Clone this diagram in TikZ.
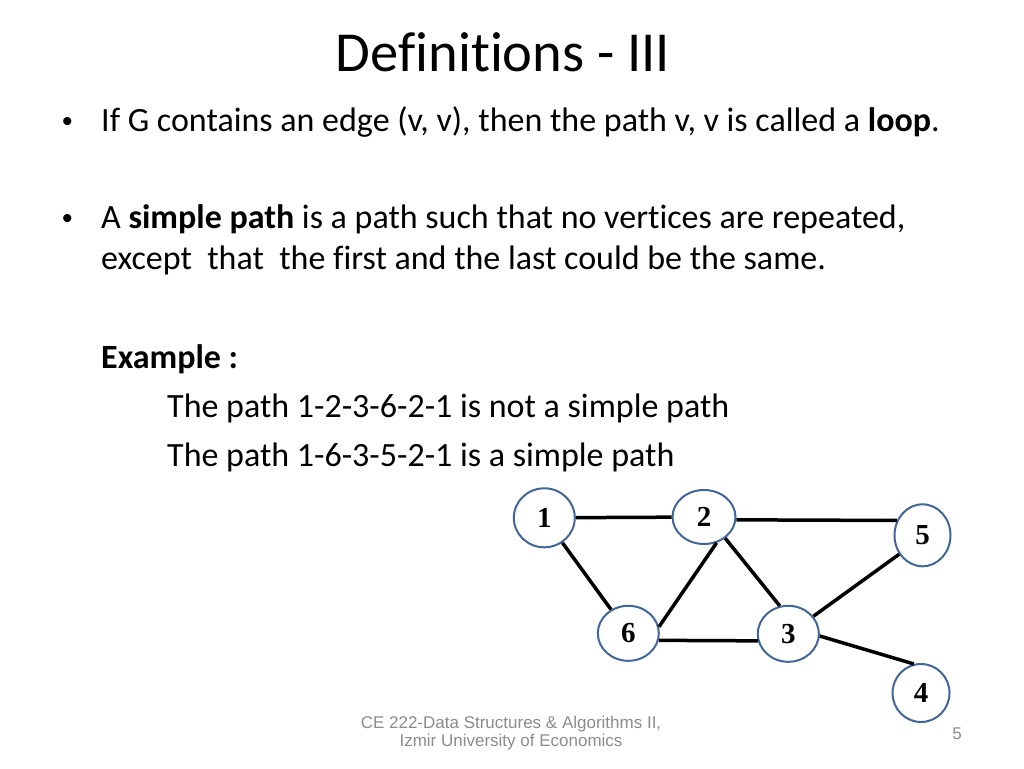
\documentclass[tikz,border=0pt]{standalone}
\usepackage{fontspec}
\setmainfont{Carlito}[Ligatures=NoCommon]
\newfontfamily\footfont{Liberation Sans}
\newfontfamily\numfont{Liberation Serif}
\definecolor{nodeblue}{HTML}{41669A}
\definecolor{footgray}{HTML}{8C8C8C}
\usetikzlibrary{shapes.geometric}

\begin{document}
\begin{tikzpicture}
  [x=1pt,y=-1pt,
   vertex/.style={ellipse,draw=nodeblue,line width=2pt,fill=white,inner sep=0pt,
     minimum width=61pt,minimum height=56pt,font=\numfont\bfseries\fontsize{29}{29}\selectfont},
   edge/.style={line width=3.5pt},
   body/.style={anchor=base west,inner sep=0pt,font=\fontsize{34}{41}\selectfont},
   dot/.style={anchor=base,inner sep=0pt,font=\footfont\fontsize{30}{30}\selectfont},
   foot/.style={inner sep=0pt,text=footgray,font=\footfont\fontsize{17}{18.7}\selectfont}]
  \fill[white] (0,0) rectangle (1024,768);
  \useasboundingbox (0,0) rectangle (1024,768);
  % slide text
  \node[anchor=base,inner sep=0pt,font=\fontsize{56.5}{60}\selectfont] (title) at (503,71) {Definitions - III};
  \node[dot] (d1) at (67.5,131.7) {•};
  \node[body] (t1) at (101,131.7) {If G contains an edge (v, v), then the path v, v is called a \textbf{loop}.};
  \node[dot] (d2) at (67.5,228.3) {•};
  \node[body] (t2) at (101,228.3) {A \textbf{simple path} is a path such that no vertices are repeated,};
  \node[body] (t3) at (101,269) {except\ \ that\ \ the first and the last could be the same.};
  \node[body] (ex) at (101,368.3) {\textbf{Example :}};
  \node[body] (p1) at (167,417.3) {The path 1-2-3-6-2-1 is not a simple path};
  \node[body] (p2) at (167,466.7) {The path 1-6-3-5-2-1 is a simple path};
  % graph
  \node[vertex,minimum width=61pt,minimum height=59pt] (v1) at (544.3,517.8) {1};
  \node[vertex,minimum width=63pt,minimum height=54pt] (v2) at (704,517) {2};
  \node[vertex] (v3) at (788.3,633.8) {3};
  \node[vertex,minimum width=57pt,minimum height=58pt] (v4) at (921,693) {4};
  \node[vertex,minimum width=56pt,minimum height=62pt] (v5) at (922.5,535.3) {5};
  \node[vertex,minimum height=55pt] (v6) at (628.3,633.3) {6};
  \foreach \from/\to in {v1/v2,v2.-5/v5.150,v1/v6,v2.-64/v6.12,v2.-45/v3.107,v6.-13/v3.-167,v5.-141/v3.35,v3.-4/v4.104}
    \draw[edge] (\from) -- (\to);
  % footer
  \node[foot,anchor=base,align=center] (course) at (511,746.7) {CE 222-Data Structures \& Algorithms II,\\Izmir University of Economics};
  \node[foot,anchor=base] (page) at (957,739) {5};
\end{tikzpicture}
\end{document}
